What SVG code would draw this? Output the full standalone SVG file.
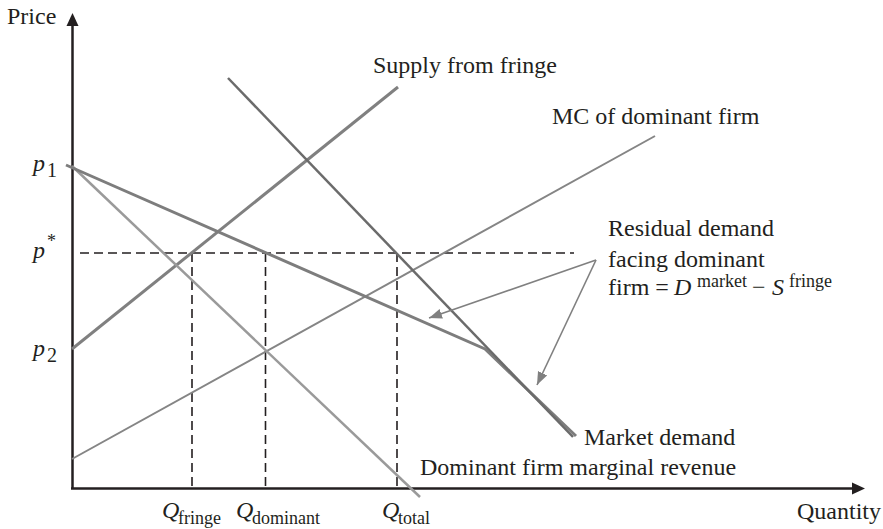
<svg xmlns="http://www.w3.org/2000/svg" width="883" height="529" viewBox="0 0 883 529">
<style>
text{font-family:"Liberation Serif","Times New Roman",serif;font-size:24px;fill:#231f20}
.it{font-style:italic}
.sub{font-size:18px}
.psub{font-size:20px}
.axis{stroke:#231f20;stroke-width:2.5;fill:none}
.dash{stroke:#231f20;stroke-width:1.6;stroke-dasharray:9 5;fill:none}
.curve{fill:none;stroke-linecap:butt}
.ptr{stroke:#808080;stroke-width:1.6;fill:none}
</style>
<defs>
<marker id="ah" markerWidth="14" markerHeight="12" refX="13" refY="5" orient="auto" markerUnits="userSpaceOnUse">
<path d="M0,0 L13,5 L0,10 Z" fill="#808080"/>
</marker>
</defs>
<rect width="883" height="529" fill="#ffffff"/>

<g id="axes">
<line class="axis" x1="72.5" y1="489" x2="72.5" y2="24"/>
<path d="M72.5,13 L66.5,26 L78.5,26 Z" fill="#231f20"/>
<line class="axis" x1="71" y1="488.5" x2="853" y2="488.5"/>
<path d="M865,488.5 L852,482.5 L852,494.5 Z" fill="#231f20"/>
<text x="7" y="24">Price</text>
<text x="797" y="519">Quantity</text>
</g>

<g id="guides">
<line class="dash" x1="80" y1="253" x2="574" y2="253"/>
<line class="dash" x1="192" y1="253" x2="192" y2="488"/>
<line class="dash" x1="265.5" y1="253" x2="265.5" y2="488"/>
<line class="dash" x1="397" y1="253" x2="397" y2="488"/>
</g>

<g id="mc-dominant">
<line class="curve" x1="72" y1="459" x2="655" y2="136" stroke="#858585" stroke-width="2"/>
<text x="552" y="124">MC of dominant firm</text>
</g>

<g id="supply-fringe">
<line class="curve" x1="72" y1="349" x2="398" y2="87" stroke="#808080" stroke-width="3"/>
<text x="373" y="73">Supply from fringe</text>
</g>

<g id="dominant-mr">
<line class="curve" x1="72" y1="166" x2="420" y2="497" stroke="#9a9a9a" stroke-width="2.5"/>
<text x="420" y="475">Dominant firm marginal revenue</text>
</g>

<g id="residual-demand">
<polyline class="curve" points="66,165 485,349 576,436" stroke="#7d7d7d" stroke-width="3" stroke-linejoin="miter"/>
<text x="608" y="236">Residual demand</text>
<text x="608" y="267">facing dominant</text>
<text y="295"><tspan x="608">firm =</tspan><tspan class="it" x="674">D</tspan><tspan class="sub" x="697" y="287">market</tspan><tspan x="752" y="295">−</tspan><tspan class="it" x="772">S</tspan><tspan class="sub" x="789" y="287">fringe</tspan></text>
</g>

<g id="market-demand">
<line class="curve" x1="228" y1="78" x2="573" y2="437" stroke="#6b6b6b" stroke-width="2.5"/>
<text x="584" y="445">Market demand</text>
</g>

<g id="price-labels">
<text class="it" x="33" y="171">p<tspan class="psub" font-style="normal" x="47" y="177">1</tspan></text>
<text class="it" x="33" y="258">p<tspan class="sub" font-style="normal" x="47" y="247">*</tspan></text>
<text class="it" x="33" y="356">p<tspan class="psub" font-style="normal" x="47" y="362">2</tspan></text>
</g>

<g id="quantity-labels">
<text class="it" x="162" y="518">Q<tspan class="sub" font-style="normal" x="178" y="524">fringe</tspan></text>
<text class="it" x="236" y="518">Q<tspan class="sub" font-style="normal" x="252" y="524">dominant</tspan></text>
<text class="it" x="382" y="518">Q<tspan class="sub" font-style="normal" x="398" y="524">total</tspan></text>
</g>

<g id="connectors">
<line class="ptr" x1="596" y1="260" x2="429" y2="318" marker-end="url(#ah)"/>
<line class="ptr" x1="596" y1="260" x2="537" y2="385" marker-end="url(#ah)"/>
</g>
</svg>
